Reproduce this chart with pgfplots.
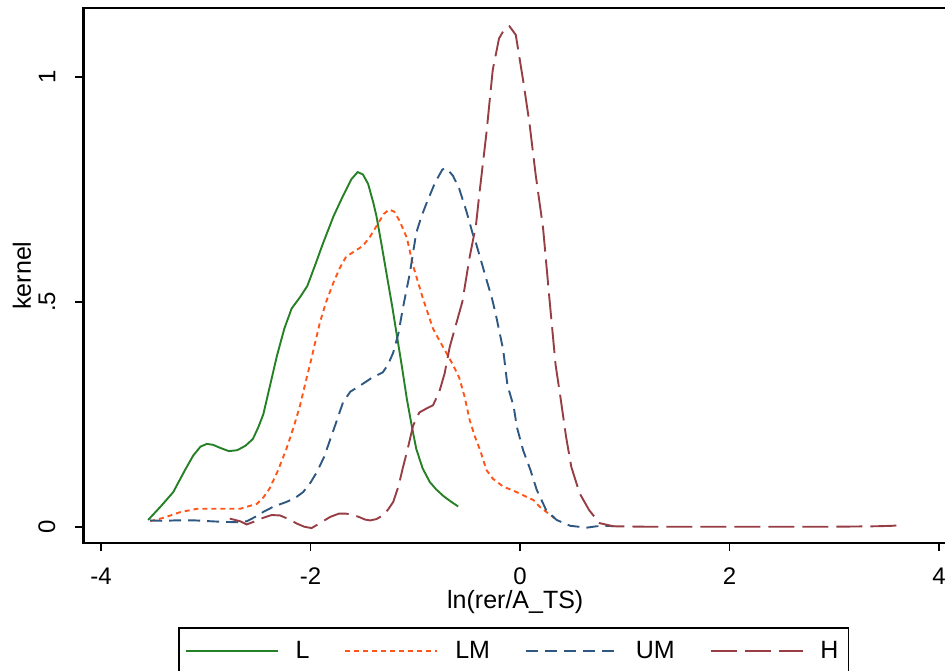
\documentclass[border=0pt]{standalone}
\usepackage{pgfplots}
\pgfplotsset{compat=1.18}
\usepackage{fontspec}
\setmainfont{Liberation Sans}
\definecolor{cL}{RGB}{38,128,38}
\definecolor{cLM}{RGB}{255,85,25}
\definecolor{cUM}{RGB}{46,88,130}
\definecolor{cH}{RGB}{150,62,68}
\begin{document}
\begin{tikzpicture}
\begin{axis}[
  at={(41.75pt,63.5pt)}, anchor=south west,
  scale only axis, width=431.75pt, height=267.5pt,
  xmin=-4.167, xmax=4.077, ymin=-0.0362, ymax=1.1527,
  xtick={-4,-2,0,2,4}, ytick={0,0.5,1}, yticklabels={0,.5,1},
  tick align=outside, major tick length=4pt,
  tick style={black, line width=0.8pt},
  xtick pos=bottom, ytick pos=left,
  axis line style={line width=1.1pt},
  /pgf/number format/assume math mode=true,
  tick label style={font=\fontsize{12}{14}\selectfont},
  yticklabel style={rotate=90, anchor=south, yshift=6.5pt},
  xticklabel style={yshift=-5pt},
  label style={font=\fontsize{12.5}{14}\selectfont},
  xlabel={ln(rer/A\_TS)}, ylabel={kernel},
  xlabel style={at={(axis description cs:0.5,0)}, anchor=center, yshift=-29.5pt},
  ylabel style={at={(axis description cs:0,0.5)}, anchor=center, yshift=30.75pt},
  legend columns=4,
  legend style={at={(0.1094,-0.157)}, anchor=north west, draw=black, line width=0.8pt,
    font=\fontsize{12.5}{14}\selectfont, inner xsep=3pt, inner ysep=4.5pt,
    /tikz/every even column/.append style={column sep=15.5pt},
    /tikz/every odd column/.append style={column sep=6.5pt}},
  legend image code/.code={\draw[#1, line width=0.9pt] (0pt,0pt) -- (46pt,0pt);},
  every axis plot/.append style={line width=0.95pt},
]
\addplot[draw=cL, solid] coordinates {
(-3.55,0.015) (-3.43,0.045) (-3.31,0.077) (-3.20,0.125) (-3.12,0.158) (-3.05,0.178)
(-2.99,0.184) (-2.93,0.182) (-2.86,0.175) (-2.78,0.168) (-2.70,0.170) (-2.62,0.180)
(-2.55,0.195) (-2.50,0.220) (-2.45,0.250) (-2.39,0.310) (-2.32,0.380) (-2.25,0.440)
(-2.18,0.485) (-2.10,0.510) (-2.03,0.535) (-1.95,0.585) (-1.88,0.630) (-1.78,0.690)
(-1.69,0.735) (-1.61,0.772) (-1.55,0.788) (-1.50,0.783) (-1.45,0.762) (-1.40,0.720)
(-1.37,0.690) (-1.32,0.625) (-1.27,0.557) (-1.22,0.490) (-1.18,0.432) (-1.13,0.360)
(-1.08,0.284) (-1.03,0.220) (-0.99,0.173) (-0.93,0.130) (-0.86,0.099) (-0.80,0.083)
(-0.73,0.068) (-0.66,0.056) (-0.59,0.045)
};
\addlegendentry{L}
\addplot[draw=cLM, dash pattern=on 2.5pt off 2pt] coordinates {
(-3.53,0.012) (-3.40,0.020) (-3.25,0.032) (-3.08,0.040) (-2.90,0.040) (-2.67,0.040)
(-2.51,0.051) (-2.45,0.065) (-2.39,0.085) (-2.31,0.125) (-2.23,0.173) (-2.16,0.222)
(-2.10,0.269) (-2.05,0.318) (-2.00,0.365) (-1.91,0.454) (-1.85,0.500) (-1.78,0.543)
(-1.72,0.575) (-1.66,0.600) (-1.58,0.612) (-1.50,0.624) (-1.43,0.645) (-1.37,0.668)
(-1.30,0.695) (-1.25,0.705) (-1.20,0.700) (-1.15,0.680) (-1.08,0.642) (-1.02,0.580)
(-0.93,0.510) (-0.83,0.440) (-0.76,0.410) (-0.70,0.385) (-0.64,0.360) (-0.58,0.331)
(-0.53,0.290) (-0.48,0.237) (-0.43,0.200) (-0.38,0.170) (-0.32,0.126) (-0.26,0.107)
(-0.16,0.089) (-0.06,0.080) (0.03,0.070) (0.13,0.059) (0.19,0.044) (0.29,0.026) (0.33,0.019)
};
\addlegendentry{LM}
\addplot[draw=cUM, dash pattern=on 6pt off 3.5pt] coordinates {
(-3.53,0.014) (-3.40,0.013) (-3.30,0.014) (-3.10,0.014) (-2.86,0.011) (-2.70,0.010)
(-2.61,0.012) (-2.50,0.025) (-2.45,0.033) (-2.35,0.045) (-2.23,0.055) (-2.14,0.065)
(-2.07,0.077) (-2.00,0.098) (-1.94,0.121) (-1.87,0.155) (-1.81,0.195) (-1.75,0.235)
(-1.69,0.276) (-1.62,0.300) (-1.53,0.313) (-1.42,0.330) (-1.31,0.343) (-1.26,0.360)
(-1.21,0.387) (-1.16,0.430) (-1.12,0.483) (-1.08,0.530) (-1.05,0.565) (-1.02,0.610)
(-0.99,0.653) (-0.94,0.690) (-0.89,0.720) (-0.81,0.765) (-0.74,0.794) (-0.70,0.796)
(-0.64,0.780) (-0.58,0.751) (-0.51,0.700) (-0.45,0.650) (-0.42,0.630) (-0.37,0.590)
(-0.32,0.549) (-0.27,0.510) (-0.23,0.471) (-0.16,0.393) (-0.12,0.315) (-0.06,0.267)
(-0.03,0.222) (0.03,0.170) (0.10,0.126) (0.16,0.082) (0.25,0.037) (0.35,0.015)
(0.48,0.002) (0.64,-0.002) (0.73,0.001) (0.83,0.002) (0.90,0.001)
};
\addlegendentry{UM}
\addplot[draw=cH, dash pattern=on 13pt off 4pt] coordinates {
(-2.77,0.018) (-2.67,0.012) (-2.61,0.005) (-2.53,0.012) (-2.45,0.020) (-2.37,0.026)
(-2.29,0.025) (-2.21,0.017) (-2.13,0.007) (-2.06,0.000) (-1.99,-0.003) (-1.93,0.005)
(-1.86,0.015) (-1.81,0.022) (-1.73,0.029) (-1.66,0.029) (-1.59,0.026) (-1.53,0.021)
(-1.48,0.016) (-1.43,0.014) (-1.37,0.017) (-1.31,0.025) (-1.26,0.038) (-1.21,0.055)
(-1.16,0.090) (-1.12,0.129) (-1.07,0.175) (-1.02,0.225) (-0.96,0.254) (-0.89,0.263)
(-0.83,0.270) (-0.77,0.300) (-0.72,0.340) (-0.67,0.400) (-0.61,0.450) (-0.55,0.500)
(-0.48,0.600) (-0.42,0.670) (-0.39,0.735) (-0.32,0.875) (-0.26,1.015) (-0.20,1.085)
(-0.15,1.105) (-0.10,1.112) (-0.04,1.093) (0.03,0.992) (0.09,0.898) (0.15,0.782)
(0.22,0.665) (0.28,0.510) (0.34,0.360) (0.39,0.282) (0.44,0.200) (0.49,0.133)
(0.57,0.074) (0.66,0.037) (0.76,0.008) (0.89,0.001) (1.20,0.000) (1.60,0.000)
(2.00,0.000) (2.50,0.000) (3.00,0.000) (3.40,0.001) (3.55,0.002) (3.66,0.004)
};
\addlegendentry{H}
\end{axis}
\pgfresetboundingbox
\useasboundingbox (0,0) rectangle (472.5pt,335pt);
\end{tikzpicture}
\end{document}
